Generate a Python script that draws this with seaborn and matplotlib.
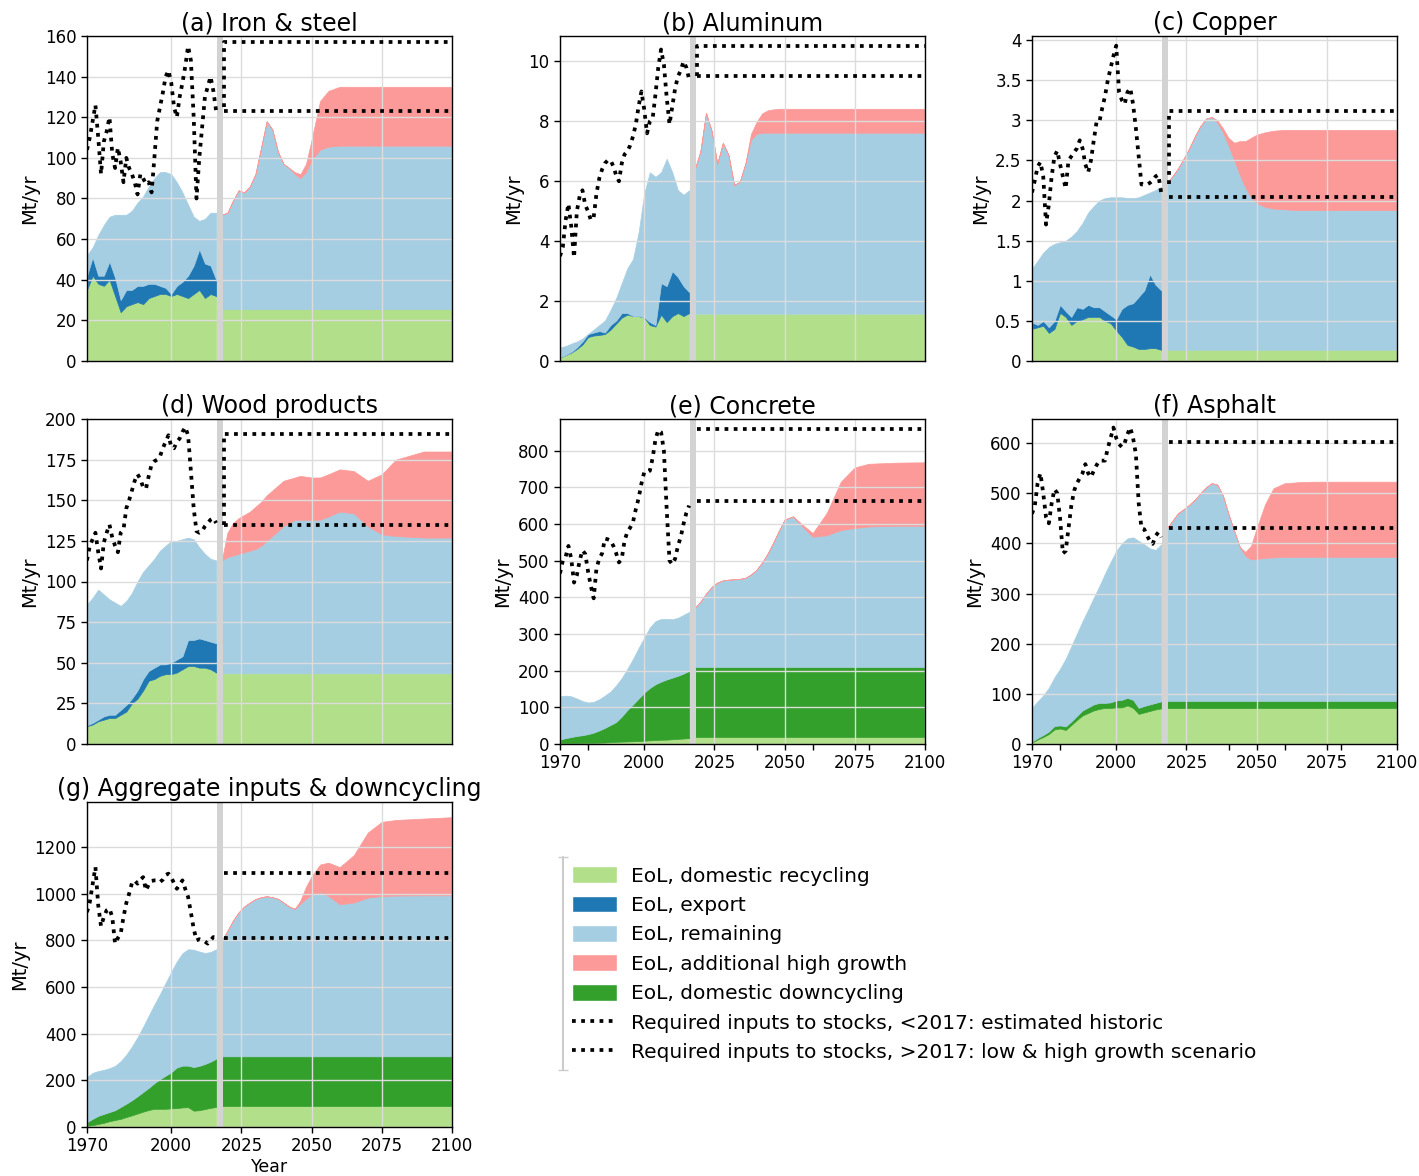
import numpy as np
import matplotlib
matplotlib.use("Agg")
import matplotlib.pyplot as plt
import seaborn as sns
from matplotlib.patches import Patch
from matplotlib.lines import Line2D
from matplotlib.ticker import FuncFormatter

# Year grids
HIST_YEARS = list(range(1970, 2017, 2))
FUT_YEARS = [2018, 2020, 2022, 2024, 2026, 2028, 2030, 2032, 2034, 2036, 2038, 2040, 2042,
             2044, 2046, 2048, 2050, 2053, 2056, 2060, 2065, 2070, 2075, 2080, 2090, 2100]
INPUT_YEARS = list(range(1970, 2017))

# (a) Iron & steel
IRON_REC = [35, 42, 38, 37, 40, 32, 24, 27, 28, 29, 28, 31, 32, 33, 33, 32, 33, 32, 31, 33, 35, 31, 33, 32]
IRON_EXP = [7, 9, 4, 5, 9, 9, 6, 8, 7, 8, 9, 7, 6, 4, 3, 1, 4, 7, 11, 14, 20, 17, 14, 8]
IRON_REM = [10, 5, 20, 25, 22, 31, 42, 37, 39, 41, 44, 48, 52, 56, 57, 59, 51, 44, 35, 24, 14, 22, 26, 33]
IRON_REC_FUT = 25.5
IRON_REM_FUT = [46.5, 47.5, 53.5, 58.5, 57.5, 60.5, 66.5, 79.5, 92.5, 88.5, 77.5, 71.5, 69.5,
                66.5, 64.5, 67.5, 73.5, 78.5, 80, 80.5, 80.5, 80.5, 80.5, 80.5, 80.5, 80.5]
IRON_HIGH_FUT = [0, 0, 0, 0, 0, 0, 0, 0, 0, 0, 0, 0, 0,
                 1, 2, 4, 10, 24, 27.5, 29, 29, 29, 29, 29, 29, 29]
IRON_INPUT = [104, 110, 118, 126, 110, 92, 108, 113, 120, 102,
              95, 105, 98, 88, 100, 95, 92, 88, 82, 92,
              90, 87, 88, 83, 100, 118, 125, 132, 140, 143,
              137, 125, 120, 130, 137, 145, 155, 148, 120, 80,
              100, 115, 130, 135, 140, 133, 123]
IRON_HIGH, IRON_LOW, IRON_JOIN = 157, 123, 125

# (b) Aluminum
ALU_REC = [0.12, 0.2, 0.28, 0.4, 0.55, 0.8, 0.85, 0.87, 0.9, 1.05, 1.25, 1.45, 1.55, 1.5, 1.5, 1.45,
           1.2, 1.15, 1.55, 1.3, 1.5, 1.6, 1.5, 1.6]
ALU_EXP = [0, 0, 0.02, 0.05, 0.1, 0.1, 0.1, 0.13, 0.05, 0.15, 0.1, 0.15, 0.05, 0, 0, 0,
           0.1, 0.05, 1.05, 1.2, 1.5, 1.2, 1.0, 0.7]
ALU_REM = [0.33, 0.3, 0.28, 0.2, 0.1, 0.0, 0.1, 0.2, 0.4, 0.5, 0.75, 1.0, 1.5, 1.9, 2.8, 4.15,
           5.0, 4.95, 3.7, 4.25, 3.3, 2.9, 3.05, 3.4]
ALU_REC_FUT = 1.58
ALU_REM_FUT = [4.82, 5.42, 6.7, 6.1, 5.0, 5.7, 5.3, 4.3, 4.4, 5.0, 5.8, 6.0, 6.04,
               6.04, 6.04, 6.04, 6.04, 6.04, 6.04, 6.04, 6.04, 6.04, 6.04, 6.04, 6.04, 6.04]
ALU_HIGH_FUT = [0, 0, 0, 0, 0, 0, 0, 0, 0, 0, 0.2, 0.4, 0.65,
                0.75, 0.78, 0.8, 0.8, 0.8, 0.8, 0.8, 0.8, 0.8, 0.8, 0.8, 0.8, 0.8]
ALU_INPUT = [3.5, 3.8, 4.7, 5.25, 4.5, 3.45, 5.0, 5.5, 5.7, 5.2,
             5.0, 4.7, 4.8, 5.6, 6.1, 6.4, 6.6, 6.7, 6.7, 6.5,
             6.2, 6.0, 6.6, 6.9, 7.0, 7.2, 7.5, 7.9, 8.5, 9.0,
             8.4, 7.6, 8.0, 8.1, 8.9, 9.8, 10.4, 9.9, 8.8, 7.9,
             8.5, 9.1, 9.5, 9.7, 10.0, 9.8, 9.4]
ALU_HIGH, ALU_LOW, ALU_JOIN = 10.5, 9.5, 9.5

# (c) Copper
CU_REC = [0.4, 0.42, 0.44, 0.35, 0.4, 0.6, 0.55, 0.45, 0.5, 0.52, 0.55, 0.55, 0.55, 0.5, 0.47, 0.38,
          0.3, 0.2, 0.18, 0.15, 0.15, 0.16, 0.16, 0.14]
CU_EXP = [0.08, 0.03, 0.06, 0.07, 0.1, 0.1, 0.07, 0.1, 0.17, 0.13, 0.15, 0.12, 0.12, 0.12, 0.1, 0.14,
          0.35, 0.5, 0.54, 0.65, 0.73, 0.92, 0.79, 0.74]
CU_REM = [0.67, 0.8, 0.85, 1.0, 0.96, 0.78, 0.88, 1.0, 0.95, 1.07, 1.15, 1.26, 1.33, 1.41, 1.47, 1.52,
          1.39, 1.33, 1.31, 1.24, 1.19, 1.02, 1.18, 1.29]
CU_REC_FUT = 0.14
CU_REM_FUT = [2.08, 2.16, 2.26, 2.38, 2.51, 2.66, 2.79, 2.88, 2.9, 2.83, 2.71, 2.54, 2.36,
              2.18, 2.02, 1.9, 1.83, 1.78, 1.76, 1.75, 1.74, 1.74, 1.74, 1.74, 1.74, 1.74]
CU_HIGH_FUT = [0, 0, 0, 0, 0, 0, 0, 0, 0, 0.03, 0.05, 0.1, 0.22,
               0.42, 0.58, 0.74, 0.85, 0.93, 0.97, 0.99, 1.0, 1.0, 1.0, 1.0, 1.0, 1.0]
CU_INPUT = [2.1, 2.25, 2.42, 2.48, 2.3, 1.7, 1.95, 2.3, 2.55, 2.62,
            2.45, 2.3, 2.15, 2.5, 2.55, 2.6, 2.65, 2.75, 2.65, 2.45,
            2.35, 2.5, 2.75, 2.98, 2.98, 3.15, 3.3, 3.5, 3.65, 3.8,
            3.93, 3.35, 3.25, 3.2, 3.35, 3.4, 3.2, 2.9, 2.55, 2.2,
            2.2, 2.2, 2.22, 2.25, 2.3, 2.32, 2.1]
CU_HIGH, CU_LOW, CU_JOIN = 3.12, 2.04, 2.2

# (d) Wood products
WOOD_REC = [11, 12, 14, 15, 16, 16, 18, 20, 25, 28, 33, 39, 40, 42, 43, 43, 44, 46, 48, 48, 47, 47, 46, 44]
WOOD_EXP = [0.5, 1, 1, 2, 2, 2, 3, 4, 3, 5, 7, 6, 7, 7, 6, 7, 8, 8, 16, 16, 18, 17, 17, 18]
WOOD_REM = [74.5, 77, 80, 75, 71, 69, 64, 64, 65, 67, 66, 65, 67, 70, 73, 75, 73, 72, 63, 62, 56, 53, 51, 51]
WOOD_REC_FUT = 43.5
WOOD_REM_FUT = [69.5, 71.5, 72.5, 73.5, 74.5, 75.5, 76.5, 78.5, 81.5, 84.5, 87.5, 90.5, 92.5,
                94.5, 94.5, 94.5, 94.5, 94.5, 96.5, 99.5, 98.5, 90.5, 85.5, 84.5, 83.5, 83.5]
WOOD_HIGH_FUT = [0, 15, 20, 22, 23, 24, 26, 27, 28, 28, 28, 28, 27,
                 26, 27, 26.5, 26, 26, 26, 26, 26, 28, 37, 47, 53, 53]
WOOD_INPUT = [113, 122, 126, 130, 118, 108, 124, 130, 135, 127,
              122, 118, 130, 132, 145, 150, 156, 162, 166, 163,
              158, 157, 165, 172, 174, 175, 177, 182, 186, 190,
              183, 182, 186, 188, 192, 195, 190, 168, 145, 131,
              130, 131, 134, 136, 138, 139, 136]
WOOD_HIGH, WOOD_LOW, WOOD_JOIN = 191, 135, 135

# (e) Concrete
CONC_REC = [0.5, 1, 1, 1.5, 2, 2.5, 3, 3.5, 4, 5, 6, 6.5, 7, 7.5, 8, 9, 10, 11, 11.5, 12, 13, 14, 15, 16]
CONC_DOWN = [11.5, 15, 18, 20.5, 22, 24.5, 28, 33.5, 40, 47, 54, 68.5, 86, 100.5, 116, 131,
             143, 152, 158.5, 164, 168, 172, 177, 184]
CONC_REM = [118, 116, 111, 102, 93, 86, 84, 85, 88, 91, 100, 105, 112, 124, 138, 150,
            165, 172, 171, 165, 159, 158, 160, 160]
CONC_REC_FUT, CONC_DOWN_FUT = 18, 192
CONC_REM_FUT = [162, 178, 200, 218, 230, 236, 238, 239, 240, 243, 252, 265, 285,
                310, 340, 372, 402, 410, 385, 355, 359, 373, 379, 383, 385, 385]
CONC_HIGH_FUT = [0, 0, 0, 0, 0, 0, 0, 0, 0, 0, 0, 0, 0,
                 0, 0, 0, 0, 1, 5, 10, 61, 132, 165, 171, 172, 173]
CONC_INPUT = [465, 500, 510, 540, 505, 440, 460, 500, 528, 518,
              470, 430, 397, 480, 505, 520, 560, 558, 555, 540,
              520, 495, 505, 555, 578, 590, 605, 640, 670, 710,
              741, 740, 745, 780, 830, 856, 850, 800, 640, 500,
              490, 505, 540, 564, 600, 630, 650]
CONC_HIGH, CONC_LOW, CONC_JOIN = 858, 662, None

# (f) Asphalt
ASPH_REC = [3, 9, 14, 20, 29, 31, 28, 38, 48, 57, 62, 67, 70, 72, 72, 73, 73, 77, 72, 60, 63, 66, 69, 71]
ASPH_DOWN = [2, 3, 4, 5, 7, 6, 7, 7, 8, 10, 11, 12, 12, 10, 11, 14, 15, 15, 16, 12, 13, 13, 13, 14]
ASPH_REM = [67, 73, 79, 87, 97, 113, 135, 150, 164, 178, 195, 213, 233, 258, 280, 298,
            312, 318, 324, 333, 322, 311, 305, 313]
ASPH_REC_FUT, ASPH_DOWN_FUT = 71.5, 14.5
ASPH_REM_FUT = [344, 359, 374, 382, 391, 401, 414, 426, 434, 431, 409, 372, 339,
                307, 289, 282, 283, 285, 286, 287, 287, 287, 287, 287, 287, 287]
ASPH_HIGH_FUT = [0, 0, 0, 0, 0, 0, 0, 0, 0, 0, 0, 0, 0,
                 0, 8, 27, 61, 107, 138, 147, 149, 150, 150, 150, 150, 150]
ASPH_INPUT = [459, 475, 520, 540, 500, 452, 440, 480, 508, 500,
              450, 380, 385, 430, 475, 505, 520, 530, 540, 558,
              540, 532, 545, 556, 565, 565, 565, 590, 610, 631,
              610, 598, 592, 600, 618, 631, 610, 578, 480, 430,
              428, 415, 405, 399, 415, 422, 412]
ASPH_HIGH, ASPH_LOW, ASPH_JOIN = 603, 430, None

# (g) Aggregate inputs & downcycling
AGG_REC = [5, 8, 13, 18, 25, 30, 35, 43, 50, 58, 66, 73, 78, 78, 78, 80, 81, 84, 85, 70, 72, 77, 82, 86]
AGG_DOWN = [16, 27, 35, 38, 39, 42, 51, 57, 65, 74, 84, 95, 110, 127, 142, 155,
            174, 179, 178, 187, 190, 193, 198, 207]
AGG_REM = [193, 197, 192, 189, 188, 190, 196, 210, 230, 253, 280, 310, 337, 365, 398, 430,
           455, 482, 499, 503, 490, 476, 470, 469]
AGG_REC_FUT, AGG_DOWN_FUT = 90, 213
AGG_REM_FUT = [497, 537, 582, 617, 642, 659, 674, 682, 686, 682, 675, 659, 642,
               632, 654, 675, 693, 703, 687, 652, 659, 680, 687, 689, 690, 690]
AGG_HIGH_FUT = [0, 0, 0, 0, 0, 0, 0, 0, 0, 0, 0, 0, 0,
                0, 14, 52, 79, 119, 143, 159, 203, 279, 318, 324, 329, 335]
AGG_INPUT = [921, 964, 1040, 1114, 950, 860, 900, 929, 936, 900,
             786, 810, 829, 900, 960, 1000, 1045, 1057, 1043, 1060,
             1071, 1014, 1040, 1055, 1057, 1057, 1050, 1060, 1080, 1086,
             1070, 1045, 1021, 1040, 1057, 1020, 986, 920, 850, 800,
             805, 800, 795, 786, 800, 814, 812]
AGG_HIGH, AGG_LOW, AGG_JOIN = 1090, 810, None

LEGEND_LABELS = ["EoL, domestic recycling", "EoL, export", "EoL, remaining",
                 "EoL, additional high growth", "EoL, domestic downcycling",
                 "Required inputs to stocks, <2017: estimated historic",
                 "Required inputs to stocks, >2017: low & high growth scenario"]

sns.set_style("whitegrid", {"axes.edgecolor": "black", "grid.color": "#dcdcdc",
                            "xtick.bottom": True, "ytick.left": True,
                            "text.color": "black", "axes.labelcolor": "black",
                            "xtick.color": "black", "ytick.color": "black"})
plt.rcParams['font.family'] = ['DejaVu Sans']

pal = sns.color_palette("Paired")
C_REM, C_EXP, C_REC, C_DOWN, C_HIGH = pal[0], pal[1], pal[2], pal[3], pal[4]
DOT = (0, (1, 1.45))
LW = 2.7
n_fut = len(FUT_YEARS)


def const(v):
    return np.full(n_fut, v, dtype=float)


panels = [
    ("(a) Iron & steel", (0, 0), [(IRON_REC, C_REC), (IRON_EXP, C_EXP), (IRON_REM, C_REM)],
     [(const(IRON_REC_FUT), C_REC), (IRON_REM_FUT, C_REM), (IRON_HIGH_FUT, C_HIGH)],
     IRON_INPUT, IRON_HIGH, IRON_LOW, IRON_JOIN, 160, np.arange(0, 161, 20)),
    ("(b) Aluminum", (0, 1), [(ALU_REC, C_REC), (ALU_EXP, C_EXP), (ALU_REM, C_REM)],
     [(const(ALU_REC_FUT), C_REC), (ALU_REM_FUT, C_REM), (ALU_HIGH_FUT, C_HIGH)],
     ALU_INPUT, ALU_HIGH, ALU_LOW, ALU_JOIN, 10.85, np.arange(0, 11, 2)),
    ("(c) Copper", (0, 2), [(CU_REC, C_REC), (CU_EXP, C_EXP), (CU_REM, C_REM)],
     [(const(CU_REC_FUT), C_REC), (CU_REM_FUT, C_REM), (CU_HIGH_FUT, C_HIGH)],
     CU_INPUT, CU_HIGH, CU_LOW, CU_JOIN, 4.05, np.arange(0, 4.01, 0.5)),
    ("(d) Wood products", (1, 0), [(WOOD_REC, C_REC), (WOOD_EXP, C_EXP), (WOOD_REM, C_REM)],
     [(const(WOOD_REC_FUT), C_REC), (WOOD_REM_FUT, C_REM), (WOOD_HIGH_FUT, C_HIGH)],
     WOOD_INPUT, WOOD_HIGH, WOOD_LOW, WOOD_JOIN, 200, np.arange(0, 201, 25)),
    ("(e) Concrete", (1, 1), [(CONC_REC, C_REC), (CONC_DOWN, C_DOWN), (CONC_REM, C_REM)],
     [(const(CONC_REC_FUT), C_REC), (const(CONC_DOWN_FUT), C_DOWN), (CONC_REM_FUT, C_REM),
      (CONC_HIGH_FUT, C_HIGH)],
     CONC_INPUT, CONC_HIGH, CONC_LOW, CONC_JOIN, 886, np.arange(0, 801, 100)),
    ("(f) Asphalt", (1, 2), [(ASPH_REC, C_REC), (ASPH_DOWN, C_DOWN), (ASPH_REM, C_REM)],
     [(const(ASPH_REC_FUT), C_REC), (const(ASPH_DOWN_FUT), C_DOWN), (ASPH_REM_FUT, C_REM),
      (ASPH_HIGH_FUT, C_HIGH)],
     ASPH_INPUT, ASPH_HIGH, ASPH_LOW, ASPH_JOIN, 648, np.arange(0, 601, 100)),
    ("(g) Aggregate inputs & downcycling", (2, 0),
     [(AGG_REC, C_REC), (AGG_DOWN, C_DOWN), (AGG_REM, C_REM)],
     [(const(AGG_REC_FUT), C_REC), (const(AGG_DOWN_FUT), C_DOWN), (AGG_REM_FUT, C_REM),
      (AGG_HIGH_FUT, C_HIGH)],
     AGG_INPUT, AGG_HIGH, AGG_LOW, AGG_JOIN, 1393, np.arange(0, 1201, 200)),
]

W, H = 1419, 1176
fig = plt.figure(figsize=(W / 100, H / 100), dpi=100)
col_left = [87, 560, 1032]
row_top = [36, 419, 802]
aw, ah = 365, 325

fmt = FuncFormatter(lambda v, p: f"{v:g}")

for title, (r, c), hist, fut, inputs, hi, lo, join, ytop, yticks in panels:
    ax = fig.add_axes([col_left[c] / W, 1 - (row_top[r] + ah) / H, aw / W, ah / H])

    base = np.zeros(len(HIST_YEARS))
    for vals, col in hist:
        top = base + np.asarray(vals, dtype=float)
        ax.fill_between(HIST_YEARS, base, top, color=col, lw=0.5, zorder=2)
        base = top
    base = np.zeros(n_fut)
    for vals, col in fut:
        top = base + np.asarray(vals, dtype=float)
        ax.fill_between(FUT_YEARS, base, top, color=col, lw=0.5, zorder=2)
        base = top

    ax.axvspan(2016.2, 2018.5, color="#d3d3d3", lw=0, zorder=3)

    sns.lineplot(x=INPUT_YEARS, y=inputs, ax=ax, color="black", lw=LW, linestyle=DOT, zorder=4)
    hi_x = [2018.7, 2100] if join is None else [2018.7, 2018.7, 2100]
    hi_y = [hi, hi] if join is None else [join, hi, hi]
    ax.plot(hi_x, hi_y, color="black", lw=LW, linestyle=DOT, zorder=4)
    ax.plot([2018.7, 2100], [lo, lo], color="black", lw=LW, linestyle=DOT, zorder=4)

    ax.set_xlim(1970, 2100)
    ax.set_ylim(0, ytop)
    ax.set_yticks(yticks)
    ax.yaxis.set_major_formatter(fmt)
    ax.set_xticks([1970, 2000, 2025, 2050, 2075, 2100])
    ax.set_title(title, fontsize=17, pad=4)
    ax.set_ylabel("Mt/yr", fontsize=14)
    ax.tick_params(axis="y", labelsize=12, length=4, width=1, direction="out")
    if (r, c) in [(1, 1), (1, 2), (2, 0)]:
        ax.tick_params(axis="x", labelsize=12, length=4, width=1, direction="out")
        if r == 1:
            ax.set_xticks([1980, 2040, 2060, 2080], minor=True)
            ax.tick_params(axis="x", which="minor", length=4, width=1, bottom=True)
    else:
        ax.tick_params(axis="x", labelbottom=False, length=0)
    if (r, c) == (2, 0):
        ax.set_xlabel("Year", fontsize=12.5, labelpad=2)
    for s in ax.spines.values():
        s.set_color("black")
        s.set_linewidth(1)
        s.set_zorder(5)
    ax.set_axisbelow(False)
    ax.grid(True, color="#dcdcdc", lw=1, zorder=2.5)

handles = [Patch(facecolor=C_REC), Patch(facecolor=C_EXP), Patch(facecolor=C_REM),
           Patch(facecolor=C_HIGH), Patch(facecolor=C_DOWN),
           Line2D([], [], color="black", lw=LW, linestyle=DOT),
           Line2D([], [], color="black", lw=LW, linestyle=DOT)]
fig.legend(handles, LEGEND_LABELS, loc="upper left", bbox_to_anchor=(0.392, 0.277),
           frameon=False, fontsize=14.5, handlelength=2.2, handleheight=0.9,
           labelspacing=0.5, handletextpad=0.7, borderpad=0.3)
fig.add_artist(Line2D([0.3968, 0.3968], [0.090, 0.271], transform=fig.transFigure,
                      color="#cccccc", lw=1.5, marker="_", markersize=7))

fig.savefig("out.png", dpi=100)
